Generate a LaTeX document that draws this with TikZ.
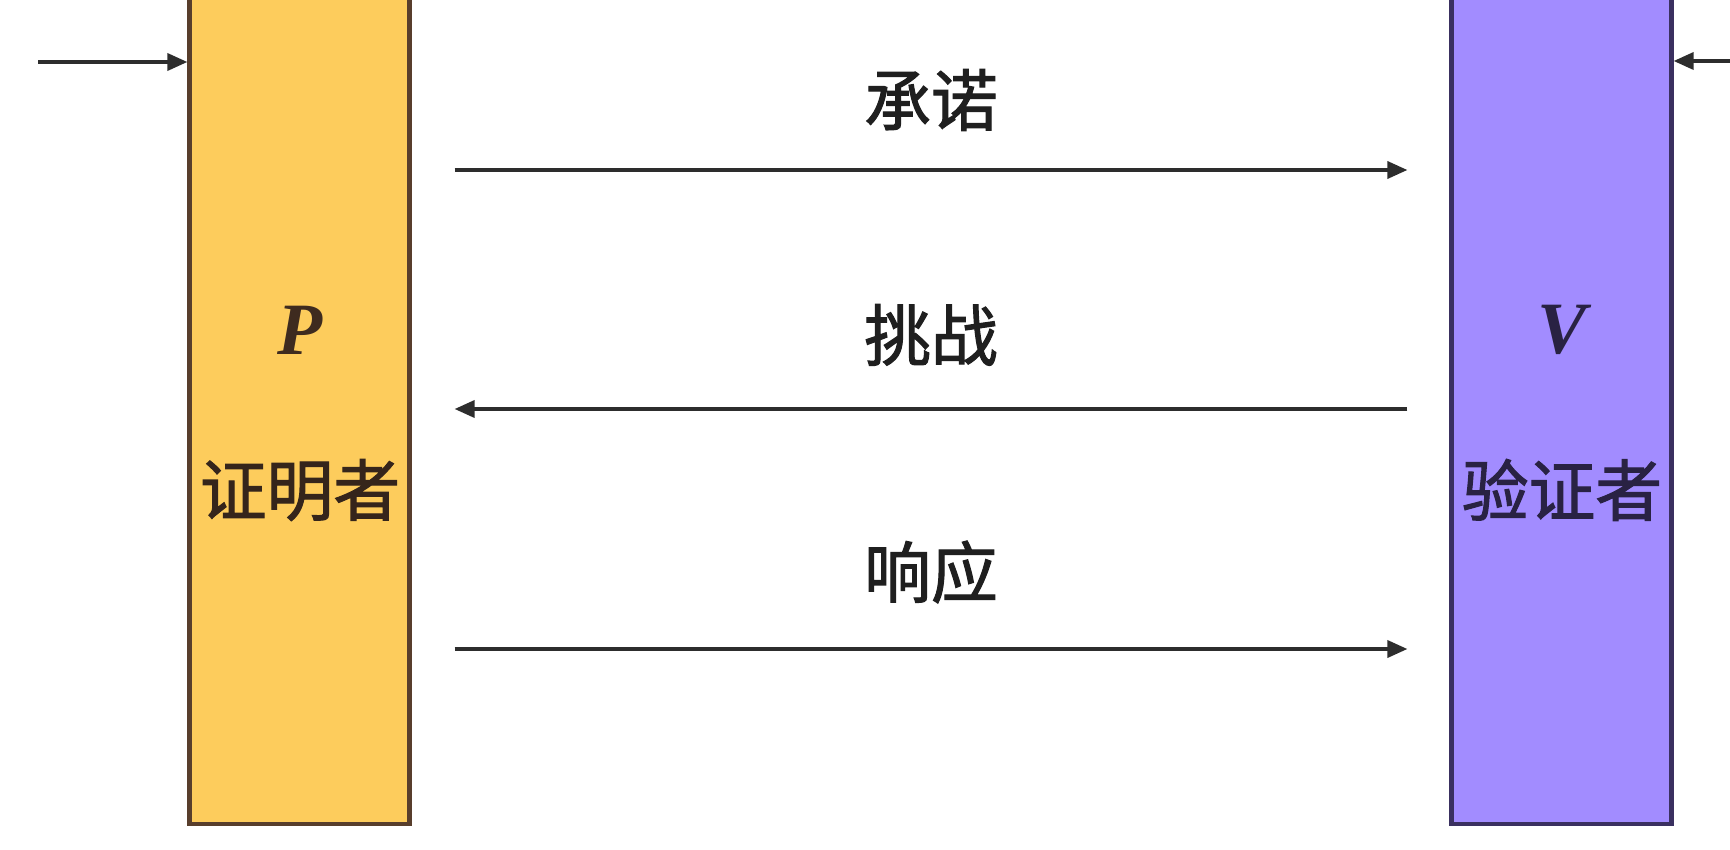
\documentclass[tikz,border=0pt]{standalone}
\usepackage{fontspec}
\setmainfont{Liberation Serif}
\newfontfamily\cjk[FakeBold=1.6]{Noto Sans CJK SC}
\usetikzlibrary{arrows.meta,positioning}
\definecolor{provfill}{RGB}{253,204,92}
\definecolor{provline}{RGB}{88,62,44}
\definecolor{verfill}{RGB}{162,140,255}
\definecolor{verline}{RGB}{58,48,96}
\definecolor{msgline}{RGB}{45,45,45}
\tikzset{
	party/.style={draw, line width=1.2pt, minimum width=2.2cm, minimum height=8.55cm, inner sep=0pt},
	msg/.style={draw=msgline, line width=1pt, -{Triangle[length=2mm,width=1.7mm]}},
	word/.style={font=\fontsize{19}{22}\selectfont\cjk, text=black!88, inner sep=0pt},
	role/.style={font=\fontsize{21}{22}\selectfont\bfseries\itshape, inner sep=0pt}
}
\begin{document}
\begin{tikzpicture}
	\useasboundingbox (0, 0) rectangle (17.3, -8.49);
	\clip (0, 0) rectangle (17.3, -8.49);
	\fill[white] (0, 0) rectangle (17.3, -8.49);

	\node[party, fill=provfill, draw=provline] (prover) at (2.995, -3.965) {};
	\node[party, fill=verfill, draw=verline] (verifier) at (15.615, -3.965) {};

	\node[role, text=provline!70!black] (pname) at (3.0, -3.3) {P};
	\node[word, text=provline!60!black] (ptext) at (3.0, -4.9) {证明者};
	\node[role, text=verline!70!black] (vname) at (15.62, -3.3) {V};
	\node[word, text=verline!70!black] (vtext) at (15.62, -4.9) {验证者};

	\node[word] (commit) at (9.31, -1.0) {承诺};
	\node[word] (challenge) at (9.31, -3.35) {挑战};
	\node[word] (response) at (9.31, -5.72) {响应};

	\coordinate (pin) at (0.38, -0.62);
	\coordinate (vin) at (17.35, -0.61);
	\draw[msg] (pin) -- (pin -| prover.west);
	\draw[msg] (vin) -- (vin -| verifier.east);

	\draw[msg, shorten <=4.3mm, shorten >=4.2mm] (prover.east |- 0, -1.7) -- (verifier.west |- 0, -1.7);
	\draw[msg, shorten <=4.2mm, shorten >=4.3mm] (verifier.west |- 0, -4.09) -- (prover.east |- 0, -4.09);
	\draw[msg, shorten <=4.3mm, shorten >=4.2mm] (prover.east |- 0, -6.49) -- (verifier.west |- 0, -6.49);
\end{tikzpicture}
\end{document}
